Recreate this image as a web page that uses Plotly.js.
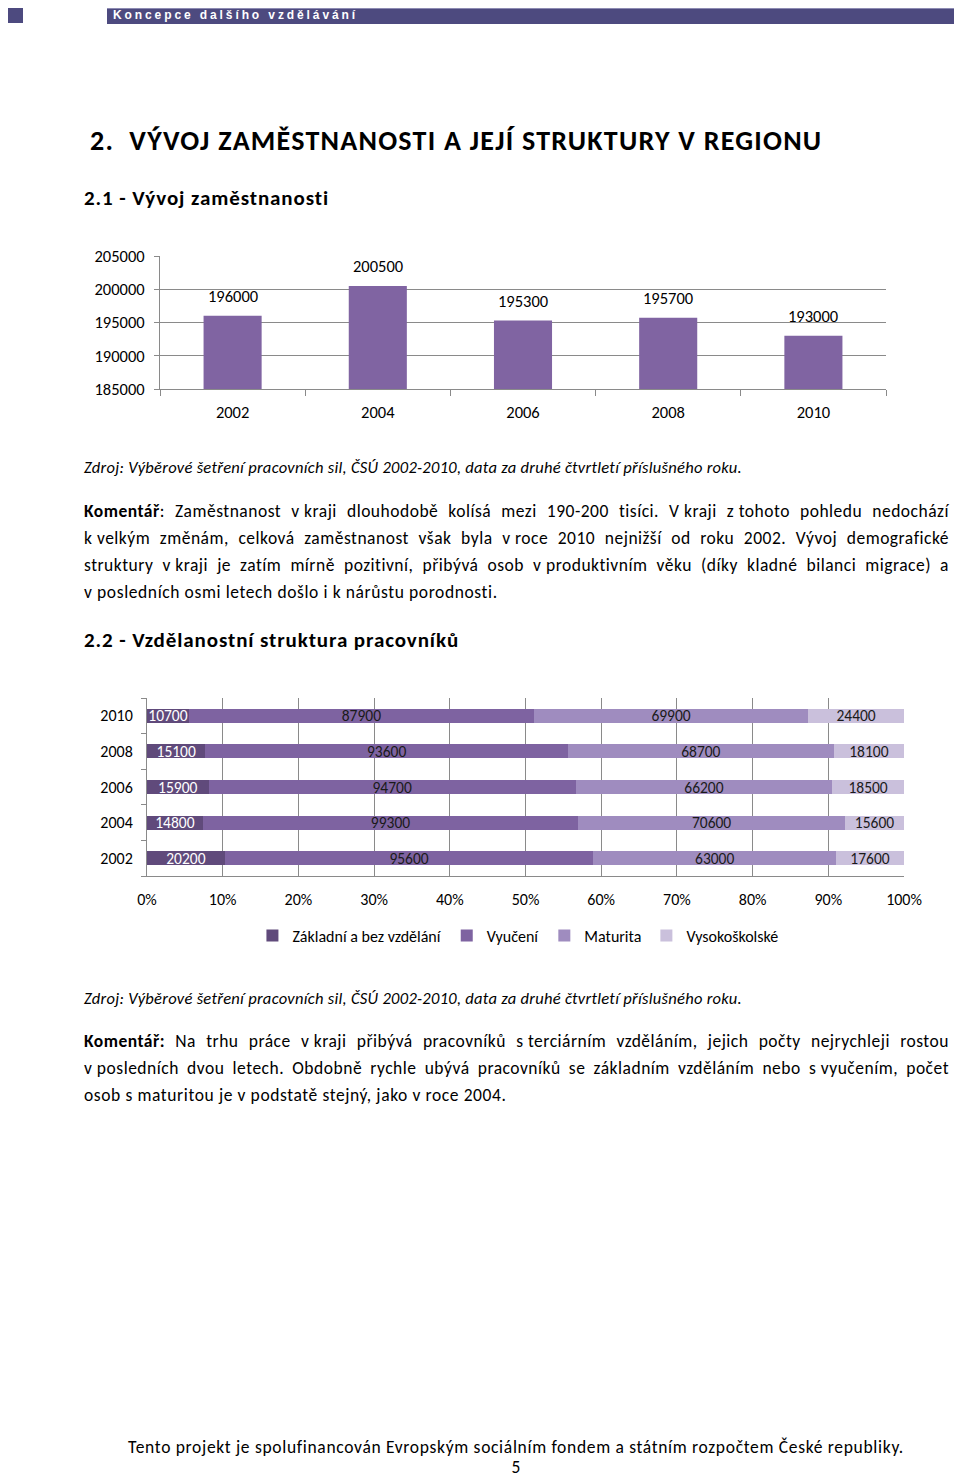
<!DOCTYPE html>
<html>
<head>
<meta charset="utf-8">
<script src="https://cdn.plot.ly/plotly-3.0.1.min.js"></script>
<style>
  html, body { margin:0; padding:0; background:#fff; }
  body { width:960px; height:1476px; position:relative; overflow:hidden;
         font-family: Carlito, Calibri, Lato, "Open Sans", sans-serif; color:#000; }
  .abs { position:absolute; white-space:nowrap; }
  .jl { position:absolute; left:84px; width:865px; height:27px; line-height:27px; font-size:17.5px; letter-spacing:0.5px;
        text-align:justify; text-align-last:justify; white-space:normal; overflow:visible; }
  .ll { position:absolute; left:84px; height:27px; line-height:27px; font-size:17.5px; letter-spacing:0.6px; white-space:nowrap; }
  .src { position:absolute; left:84px; font-style:italic; font-size:16.5px; letter-spacing:0.28px; line-height:20px; white-space:nowrap; }
  #chart1 { position:absolute; left:0; top:230px; width:960px; height:200px; }
  #chart2 { position:absolute; left:0; top:680px; width:960px; height:320px; }
</style>
</head>
<body>
<div class="abs" style="left:8px;top:8px;width:15px;height:15px;background:#4d4a7f;"></div>
<div class="abs" style="left:107px;top:8px;width:847px;height:15px;background:#4d4a7f;border-top:1px solid #8d8bb3;"></div>
<div class="abs" style="left:113px;top:8px;height:15px;line-height:15px;font-family:'Liberation Sans',Arial,sans-serif;font-weight:bold;font-size:12px;letter-spacing:2.9px;color:#fff;">Koncepce dalšího vzdělávání</div>

<div class="abs" style="left:90px;top:123px;font-size:28px;letter-spacing:1.25px;font-weight:bold;line-height:36px;">2.&nbsp; VÝVOJ ZAMĚSTNANOSTI A JEJÍ STRUKTURY V REGIONU</div>
<div class="abs" style="left:84px;top:185px;font-size:21px;letter-spacing:0.9px;font-weight:bold;line-height:26px;">2.1 - Vývoj zaměstnanosti</div>

<div id="chart1"></div>

<div class="src" style="top:457px;">Zdroj: Výběrové šetření pracovních sil, ČSÚ 2002-2010, data za druhé čtvrtletí příslušného roku.</div>

<div class="jl" style="top:498px;"><b>Komentář</b>: Zaměstnanost v&#8239;kraji dlouhodobě kolísá mezi 190-200 tisíci. V&#8239;kraji z&#8239;tohoto pohledu nedochází</div>
<div class="jl" style="top:525px;">k&#8239;velkým změnám, celková zaměstnanost však byla v&#8239;roce 2010 nejnižší od roku 2002. Vývoj demografické</div>
<div class="jl" style="top:552px;">struktury v&#8239;kraji je zatím mírně pozitivní, přibývá osob v&#8239;produktivním věku (díky kladné bilanci migrace) a</div>
<div class="ll" style="top:579px;">v&#8239;posledních osmi letech došlo i k nárůstu porodnosti.</div>

<div class="abs" style="left:84px;top:627px;font-size:21px;letter-spacing:0.9px;font-weight:bold;line-height:26px;">2.2 - Vzdělanostní struktura pracovníků</div>

<div id="chart2"></div>

<div class="src" style="top:988px;">Zdroj: Výběrové šetření pracovních sil, ČSÚ 2002-2010, data za druhé čtvrtletí příslušného roku.</div>

<div class="jl" style="top:1028px;"><b>Komentář:</b> Na trhu práce v&#8239;kraji přibývá pracovníků s&#8239;terciárním vzděláním, jejich počty nejrychleji rostou</div>
<div class="jl" style="top:1055px;">v&#8239;posledních dvou letech. Obdobně rychle ubývá pracovníků se základním vzděláním nebo s&#8239;vyučením, počet</div>
<div class="ll" style="top:1082px;">osob s&#8239;maturitou je v&#8239;podstatě stejný, jako v&#8239;roce 2004.</div>

<div class="abs" style="left:0;width:1032px;top:1437px;text-align:center;font-size:17.5px;letter-spacing:0.68px;line-height:20px;">Tento projekt je spolufinancován Evropským sociálním fondem a státním rozpočtem České republiky.</div>
<div class="abs" style="left:0;width:1032px;top:1459px;text-align:center;font-size:17.5px;line-height:17px;">5</div>

<script>
// ---------- Data: chart 1 ----------
const years1 = ['2002', '2004', '2006', '2008', '2010'];
const employment = [196000, 200500, 195300, 195700, 193000];

// ---------- Data: chart 2 ----------
const years2 = ['2002', '2004', '2006', '2008', '2010'];
const seriesNames = ['Základní a bez vzdělání', 'Vyučení', 'Maturita', 'Vysokoškolské'];
const zakladni = [20200, 14800, 15900, 15100, 10700];
const vyuceni = [95600, 99300, 94700, 93600, 87900];
const maturita = [63000, 70600, 66200, 68700, 69900];
const vysokoskolske = [17600, 15600, 18500, 18100, 24400];

const FONT = 'Carlito, Calibri, Lato, "Open Sans", sans-serif';
const GRID = '#8a8a8a';

// Chart 1
const trace1 = {
  type: 'bar', x: years1, y: employment, width: 0.4,
  marker: { color: '#8064A2' }, hoverinfo: 'none', showlegend: false
};
const ann1 = years1.map((yr, i) => ({
  x: i, y: employment[i], xref: 'x', yref: 'y', text: String(employment[i]),
  showarrow: false, yshift: 20, font: { family: FONT, size: 16.5, color: '#000' }
}));
Plotly.newPlot('chart1', [trace1], {
  width: 960, height: 200,
  margin: { l: 160, r: 74, t: 26, b: 41 },
  paper_bgcolor: 'rgba(0,0,0,0)', plot_bgcolor: 'rgba(0,0,0,0)',
  font: { family: FONT, size: 16.5, color: '#000' },
  xaxis: { type: 'category', range: [-0.5, years1.length - 0.5], autorange: false,
           showline: true, linecolor: GRID, linewidth: 1,
           ticks: 'outside', tickson: 'boundaries', ticklen: 6, tickcolor: GRID,
           showgrid: false, fixedrange: true, ticklabelstandoff: 8, tickangle: 0 },
  yaxis: { range: [185000, 205000], autorange: false, dtick: 5000, tick0: 185000,
           tickformat: 'd',
           showline: true, linecolor: GRID,
           ticks: 'outside', ticklen: 5, tickcolor: GRID, showgrid: true, gridcolor: GRID,
           zeroline: false, fixedrange: true, ticklabelstandoff: 6 },
  annotations: ann1
}, { staticPlot: true });

// Chart 2
const colors2 = ['#604A7B', '#7E63A1', '#9F8CBF', '#CAC0DC'];
const textColors2 = ['#ffffff', '#1a1a1a', '#1a1a1a', '#1a1a1a'];
const vals2 = [zakladni, vyuceni, maturita, vysokoskolske];
const traces2 = vals2.map((v, k) => ({
  type: 'bar', orientation: 'h', name: seriesNames[k], y: years2, x: v,
  text: v.map(String), textposition: 'inside', insidetextanchor: 'middle',
  textangle: 0, constraintext: 'none',
  textfont: { family: FONT, size: 15.5, color: textColors2[k] },
  marker: { color: colors2[k] }, hoverinfo: 'none'
}));
Plotly.newPlot('chart2', traces2, {
  width: 960, height: 320,
  margin: { l: 147, r: 56, t: 18, b: 124 },
  barmode: 'stack', barnorm: 'percent', bargap: 0.61,
  paper_bgcolor: 'rgba(0,0,0,0)', plot_bgcolor: 'rgba(0,0,0,0)',
  font: { family: FONT, size: 15.5, color: '#000' },
  xaxis: { range: [0, 100], autorange: false, dtick: 10, ticksuffix: '%', showgrid: true, gridcolor: GRID,
           showline: true, linecolor: GRID, zeroline: false, ticks: '', fixedrange: true,
           ticklabelstandoff: 9, tickfont: { size: 16 } },
  yaxis: { type: 'category', showline: true, linecolor: GRID, ticks: 'outside',
           tickson: 'boundaries', ticklen: 5, tickcolor: GRID, showgrid: false,
           fixedrange: true, ticklabelstandoff: 10, tickfont: { size: 16 } },
  legend: { orientation: 'h', x: 0.49, xanchor: 'center', y: -0.335, yanchor: 'middle',
            font: { family: FONT, size: 16, color: '#000' }, itemwidth: 30,
            traceorder: 'normal' }
}, { staticPlot: true });
</script>
</body>
</html>
